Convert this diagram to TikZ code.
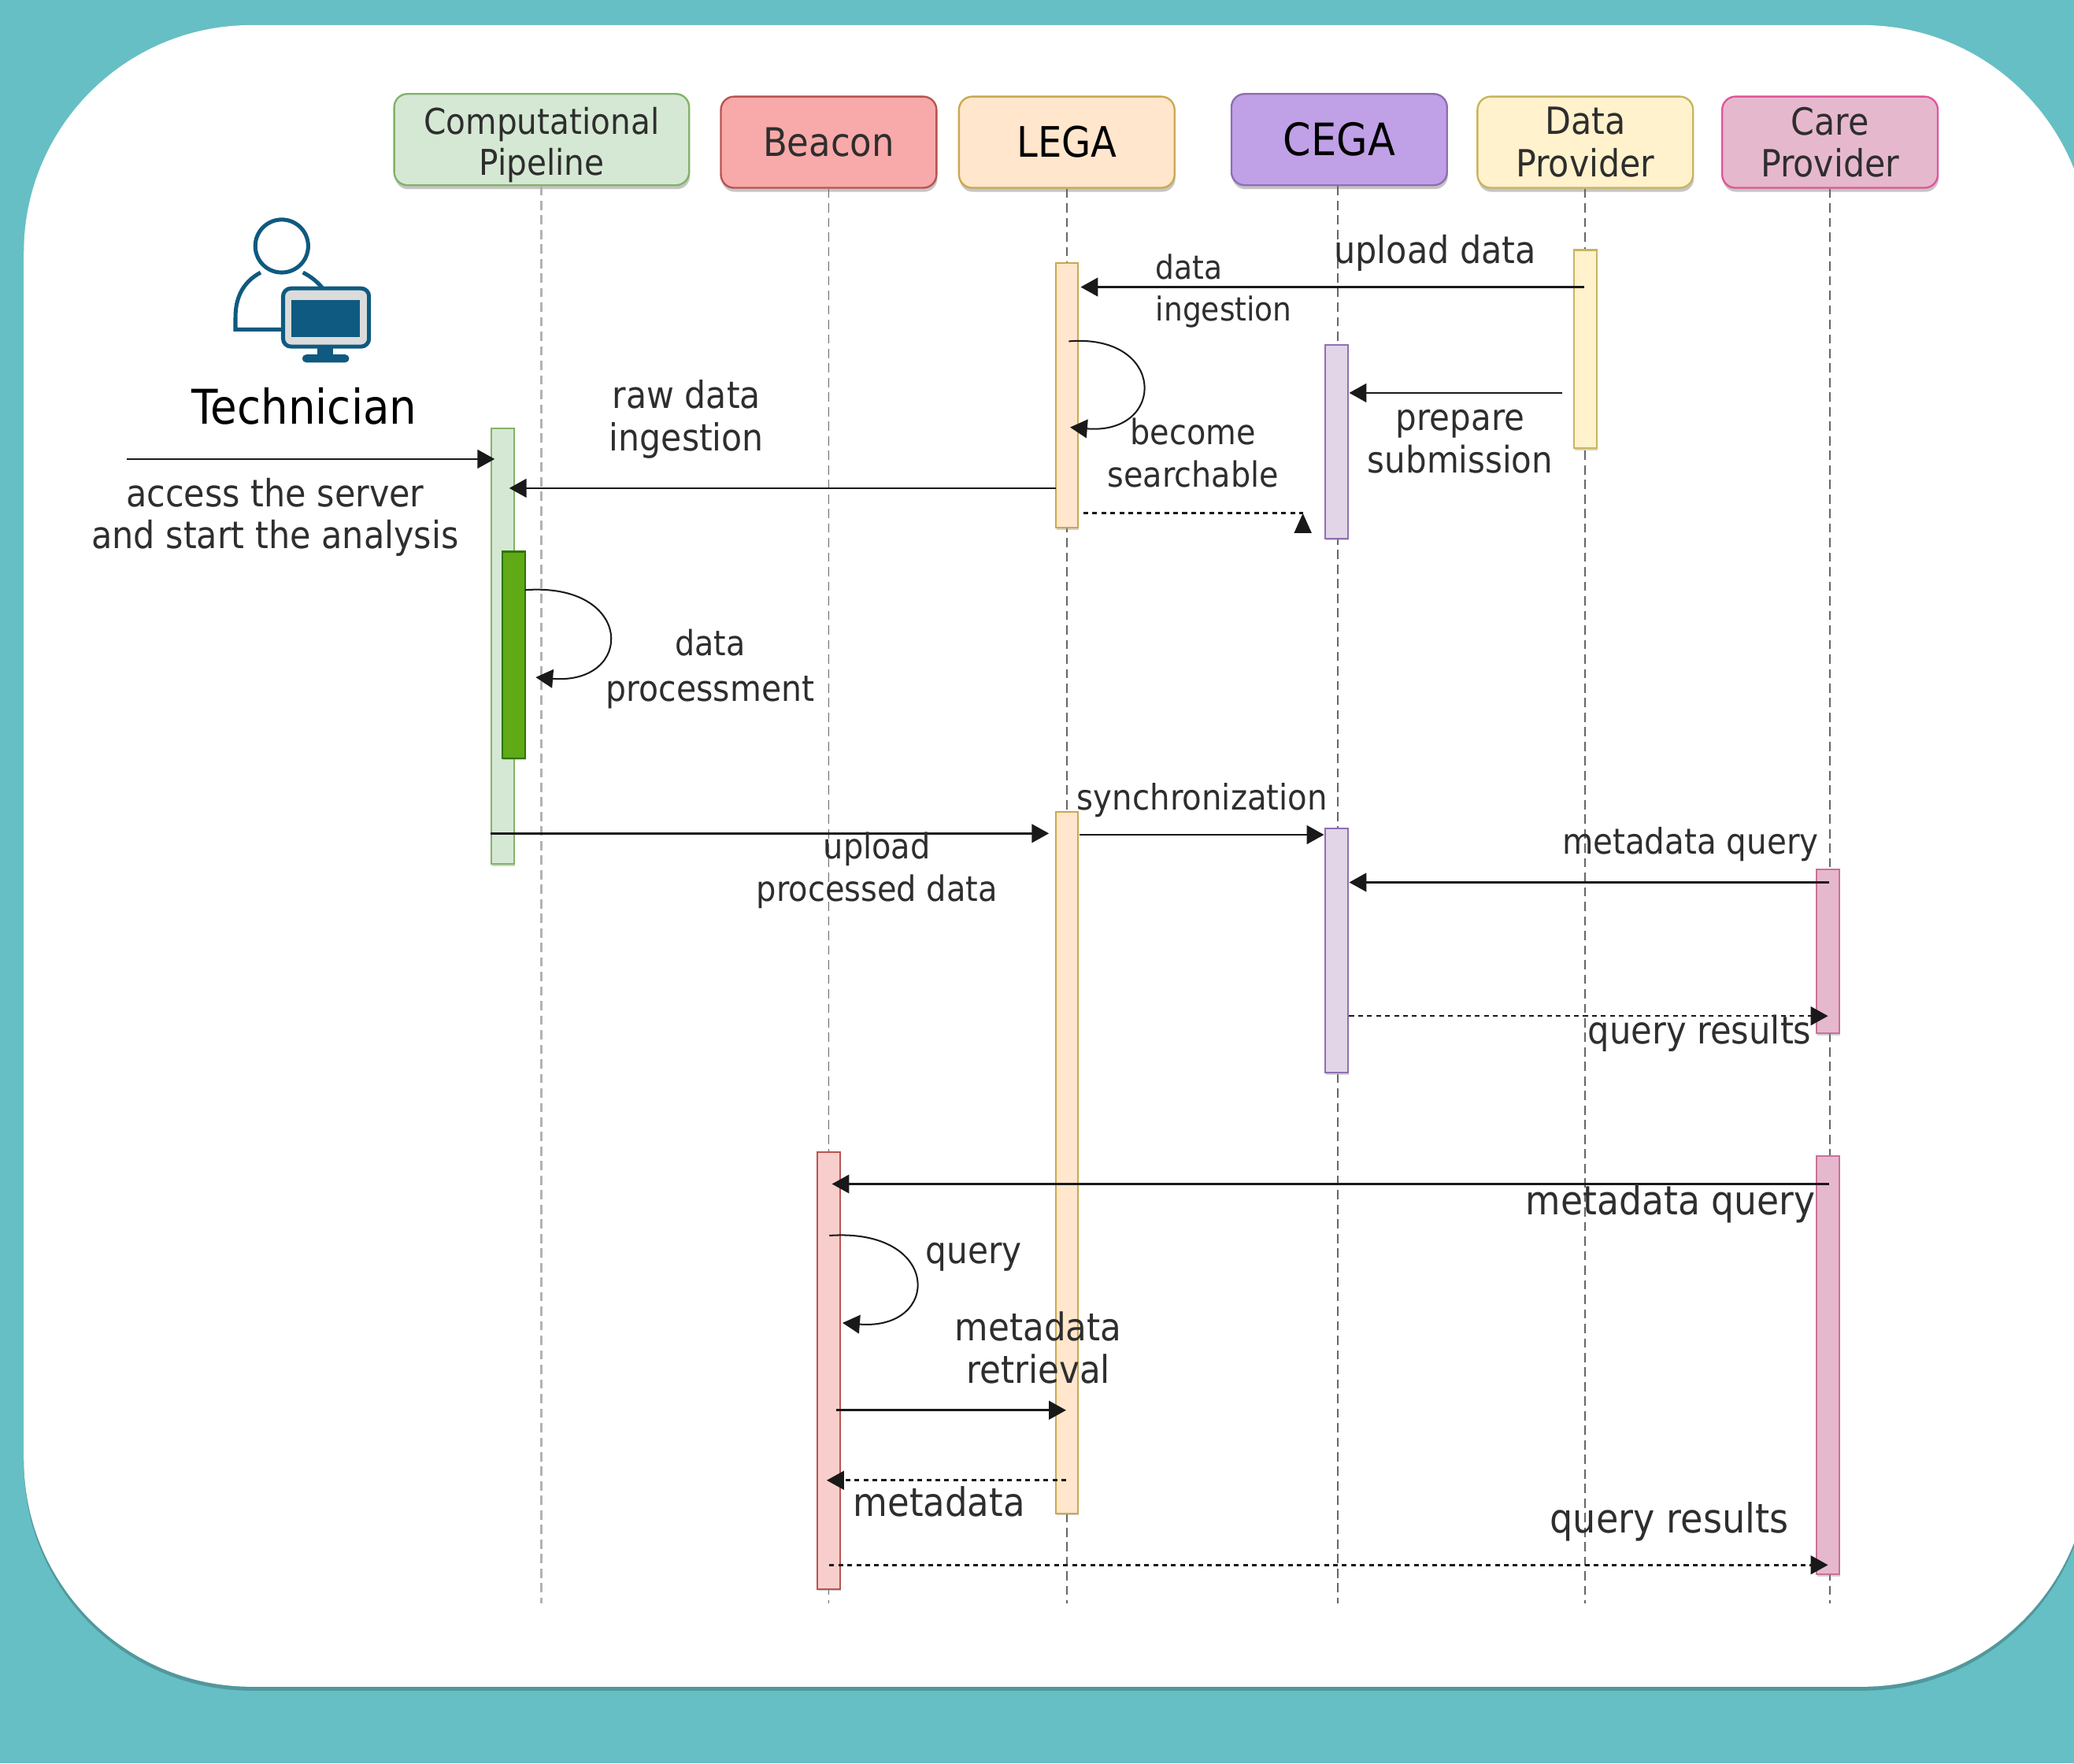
\documentclass[tikz,border=0pt]{standalone}
\usepackage{fontspec}
\setmainfont{DejaVu Sans}[FakeStretch=0.9,Scale=1.11]
\usetikzlibrary{arrows.meta,shadows}

\definecolor{tealbg}{HTML}{66BFC4}
\definecolor{inkgray}{HTML}{2E2E2E}
\definecolor{iconblue}{HTML}{0F5A80}
\definecolor{pipeFill}{HTML}{D5E8D4}
\definecolor{pipeLine}{HTML}{82B366}
\definecolor{procFill}{HTML}{60A917}
\definecolor{procLine}{HTML}{2D7600}
\definecolor{beaconHead}{HTML}{F8A9A9}
\definecolor{beaconFill}{HTML}{F8CECC}
\definecolor{beaconLine}{HTML}{B85450}
\definecolor{legaFill}{HTML}{FFE6CC}
\definecolor{legaLine}{HTML}{C9A94E}
\definecolor{cegaHead}{HTML}{C0A0E6}
\definecolor{cegaFill}{HTML}{E1D5E7}
\definecolor{cegaLine}{HTML}{8F6FB0}
\definecolor{dataFill}{HTML}{FFF2CC}
\definecolor{dataLine}{HTML}{C9B45E}
\definecolor{careFill}{HTML}{E6B8CD}
\definecolor{careLine}{HTML}{E0559A}
\definecolor{careBar}{HTML}{C9709A}

\tikzset{every picture/.style={line width=0.75pt}}
\tikzset{
	lbl/.style={font=\fontsize{#1}{16pt}\selectfont,align=center,inner sep=0pt,text=inkgray},
	hdr/.style 2 args={draw=#2,fill=#1,rounded corners=5pt,line width=0.7pt,minimum width=81.5pt,minimum height=34.5pt,inner sep=0pt,align=center,text=inkgray,drop shadow={shadow xshift=0.3pt,shadow yshift=-1.5pt,opacity=0.45}},
	bar/.style 2 args={draw=#2,fill=#1,line width=0.6pt,minimum width=8.5pt,inner sep=0pt,drop shadow={shadow xshift=0.3pt,shadow yshift=-0.8pt,opacity=0.35}},
	life/.style={draw=black!60,line width=0.5pt,dash pattern={on 3.5pt off 2pt}},
	msg/.style={draw=black!90,line width=0.8pt,-{Triangle[length=6.5pt,width=7pt]}},
	msgdash/.style={msg,dash pattern={on 1.8pt off 1.6pt}},
}

\begin{document}
\begin{tikzpicture}[x=0.5pt,y=0.5pt,yscale=-1,xscale=1]
	\useasboundingbox (0,0) rectangle (1568,1333);
	\fill [tealbg] (0,0) rectangle (1568,1333);
	\fill [black,opacity=0.2,rounded corners=86pt] (18,22) rectangle (1580,1278);
	\fill [white,rounded corners=86pt] (18,19) rectangle (1580,1275);

	%Actor boxes
	\node (hPipe) [hdr={pipeFill}{pipeLine},minimum width=111.5pt,font=\fontsize{12.1}{15.5pt}\selectfont] at (409.5,105.5) {\rule{0pt}{14pt}Computational\\Pipeline};
	\node (hBeacon) [hdr={beaconHead}{beaconLine},font=\fontsize{13.4}{16pt}\selectfont] at (626.5,107.5) {Beacon};
	\node (hLega) [hdr={legaFill}{legaLine},font=\fontsize{14.3}{16pt}\selectfont,text=black] at (806.5,107.5) {LEGA};
	\node (hCega) [hdr={cegaHead}{cegaLine},font=\fontsize{15.2}{16pt}\selectfont,text=black] at (1012.5,105.5) {CEGA};
	\node (hData) [hdr={dataFill}{dataLine},font=\fontsize{12.75}{16pt}\selectfont] at (1198.5,107.5) {Data\\Provider};
	\node (hCare) [hdr={careFill}{careLine},font=\fontsize{12.75}{16pt}\selectfont] at (1383.5,107.5) {Care\\Provider};

	%Lifeline ends
	\coordinate (ePipe) at (409.5,1212);
	\coordinate (eBeacon) at (626.5,1212);
	\coordinate (eLega) at (806.5,1212);
	\coordinate (eCega) at (1011.5,1212);
	\coordinate (eData) at (1198.5,1212);
	\coordinate (eCare) at (1383.5,1212);

	%Lifelines
	\draw [life,draw=black!30,line width=0.9pt] (hPipe) -- (ePipe);
	\draw [life] (hBeacon) -- (eBeacon);
	\draw [life] (hLega) -- (eLega);
	\draw [life] (hCega.south -| eCega) -- (eCega);
	\draw [life] (hData) -- (eData);
	\draw [life] (hCare) -- (eCare);

	%Activation bars
	\node (aPipe) [bar={pipeFill}{pipeLine},minimum height=164.5pt] at (380,488.5) {};
	\node (aProc) [bar={procFill}{procLine},minimum height=78pt] at (388.5,495) {};
	\node (aLegaA) [bar={legaFill}{legaLine},minimum height=100pt] at (806.5,299) {};
	\node (aData) [bar={dataFill}{dataLine},minimum height=75pt] at (1198.5,264) {};
	\node (aCegaA) [bar={cegaFill}{cegaLine},minimum height=73pt] at (1010.5,334) {};
	\node (aLegaB) [bar={legaFill}{legaLine},minimum height=265pt] at (806.5,879) {};
	\node (aCegaB) [bar={cegaFill}{cegaLine},minimum height=92.5pt] at (1010.5,718.5) {};
	\node (aCareA) [bar={careFill}{careBar},minimum height=62pt] at (1382,719) {};
	\node (aBeacon) [bar={beaconFill}{beaconLine},minimum height=165pt] at (626.5,1036) {};
	\node (aCareB) [bar={careFill}{careBar},minimum height=158pt] at (1382,1032) {};

	%Technician icon
	\draw [iconblue,line width=1.5pt] (213,186) circle [radius=20];
	\draw [iconblue,line width=1.5pt] (214,249) -- (178,249) -- (178,240) .. controls (178,222) and (186,212) .. (197,206) (229,206) .. controls (235,209) and (240,213) .. (244,218);
	\draw [iconblue,fill=black!14,line width=1.5pt,rounded corners=3pt] (214,218) rectangle (279,262);
	\fill [iconblue] (220,227) rectangle (272,255);
	\fill [iconblue] (240,262) rectangle (252,269);
	\fill [iconblue,rounded corners=1.5pt] (228.5,268) rectangle (264,274);

	%Message ends
	\coordinate (upFrom) at (1198,217);
	\coordinate (upTo) at (817,217);
	\coordinate (prepFrom) at (1181,297);
	\coordinate (prepTo) at (1020,297);
	\coordinate (rawFrom) at (798,369);
	\coordinate (rawTo) at (385,369);
	\coordinate (srchFrom) at (819,388);
	\coordinate (srchTo) at (985,388);
	\coordinate (tipFrom) at (985,403);
	\coordinate (tipTo) at (985,388);
	\coordinate (accFrom) at (96,347);
	\coordinate (accTo) at (374,347);
	\coordinate (procFrom) at (371,630);
	\coordinate (procTo) at (793,630);
	\coordinate (syncFrom) at (816,631);
	\coordinate (syncTo) at (1001,631);
	\coordinate (mqFrom) at (1383,667);
	\coordinate (mqTo) at (1020,667);
	\coordinate (qrFrom) at (1020,768);
	\coordinate (qrTo) at (1382,768);
	\coordinate (mqbFrom) at (1383,895);
	\coordinate (mqbTo) at (629,895);
	\coordinate (retrFrom) at (632,1066);
	\coordinate (retrTo) at (806,1066);
	\coordinate (mdFrom) at (806,1119);
	\coordinate (mdTo) at (625,1119);
	\coordinate (qrbFrom) at (627,1183);
	\coordinate (qrbTo) at (1382,1183);
	\coordinate (loopLegaA) at (808,258);
	\coordinate (loopLegaB) at (809,323);
	\coordinate (loopProcA) at (397,446);
	\coordinate (loopProcB) at (405,512);
	\coordinate (loopBeaA) at (627,934);
	\coordinate (loopBeaB) at (637,1000);

	%Straight Lines
	\draw [msg] (upFrom) -- (upTo);
	\draw [msg] (prepFrom) -- (prepTo);
	\draw [msg] (rawFrom) -- (rawTo);
	\draw [msg] (accFrom) -- (accTo);
	\draw [msg] (procFrom) -- (procTo);
	\draw [msg] (syncFrom) -- (syncTo);
	\draw [msg] (mqFrom) -- (mqTo);
	\draw [msg] (mqbFrom) -- (mqbTo);
	\draw [msg] (retrFrom) -- (retrTo);
	\draw [msgdash] (qrFrom) -- (qrTo);
	\draw [msgdash] (mdFrom) -- (mdTo);
	\draw [msgdash] (qrbFrom) -- (qrbTo);
	\draw [msgdash,-] (srchFrom) -- (srchTo);
	\draw [msg,-{Triangle[length=7.5pt,width=6.5pt]}] (tipFrom) -- (tipTo);

	%Curve Lines
	\draw [msg,line width=0.6pt] (loopLegaA) .. controls (882,252) and (882,329) .. (loopLegaB);
	\draw [msg,line width=0.6pt] (loopProcA) .. controls (480,440) and (480,518) .. (loopProcB);
	\draw [msg,line width=0.6pt] (loopBeaA) .. controls (712,928) and (712,1006) .. (loopBeaB);

	% Text Node
	\draw (230,307) node (tTech) [lbl=16.3,text=black]  {Technician};
	% Text Node
	\draw (208,391) node (tAccess) [lbl=12.8]  {access the server\\and start the analysis};
	% Text Node
	\draw (519,317) node (tRaw) [lbl=12.7]  {raw data\\ingestion};
	% Text Node
	\draw (1085,191) node (tUpload) [lbl=12.8]  {upload data};
	% Text Node
	\draw (873,220) node (tIngest) [lbl=11.2,anchor=west,align=left]  {data\\ingestion};
	% Text Node
	\draw (902,342.5) node (tSearch) [lbl=11.85]  {become\\searchable};
	% Text Node
	\draw (1104,334) node (tPrep) [lbl=12.5]  {prepare\\submission};
	% Text Node
	\draw (537,486) node (tData) [lbl=11.8]  {data};
	% Text Node
	\draw (537,523.5) node (tProc) [lbl=12.2]  {processment};
	% Text Node
	\draw (663,658) node (tUpProc) [lbl=11.9]  {upload\\processed data};
	% Text Node
	\draw (909,605) node (tSync) [lbl=12]  {synchronization};
	% Text Node
	\draw (1278,638) node (tMqA) [lbl=12.05]  {metadata query};
	% Text Node
	\draw (1285,781) node (tQrA) [lbl=12.9]  {query results};
	% Text Node
	\draw (1263,910) node (tMqB) [lbl=13.6]  {metadata query};
	% Text Node
	\draw (736,950) node (tQuery) [lbl=12.6]  {query};
	% Text Node
	\draw (785,1019) node (tRetr) [lbl=13]  {metadata\\retrieval};
	% Text Node
	\draw (710,1135) node (tMeta) [lbl=13.4]  {metadata};
	% Text Node
	\draw (1262,1150) node (tQrB) [lbl=13.76]  {query results};
\end{tikzpicture}
\end{document}
